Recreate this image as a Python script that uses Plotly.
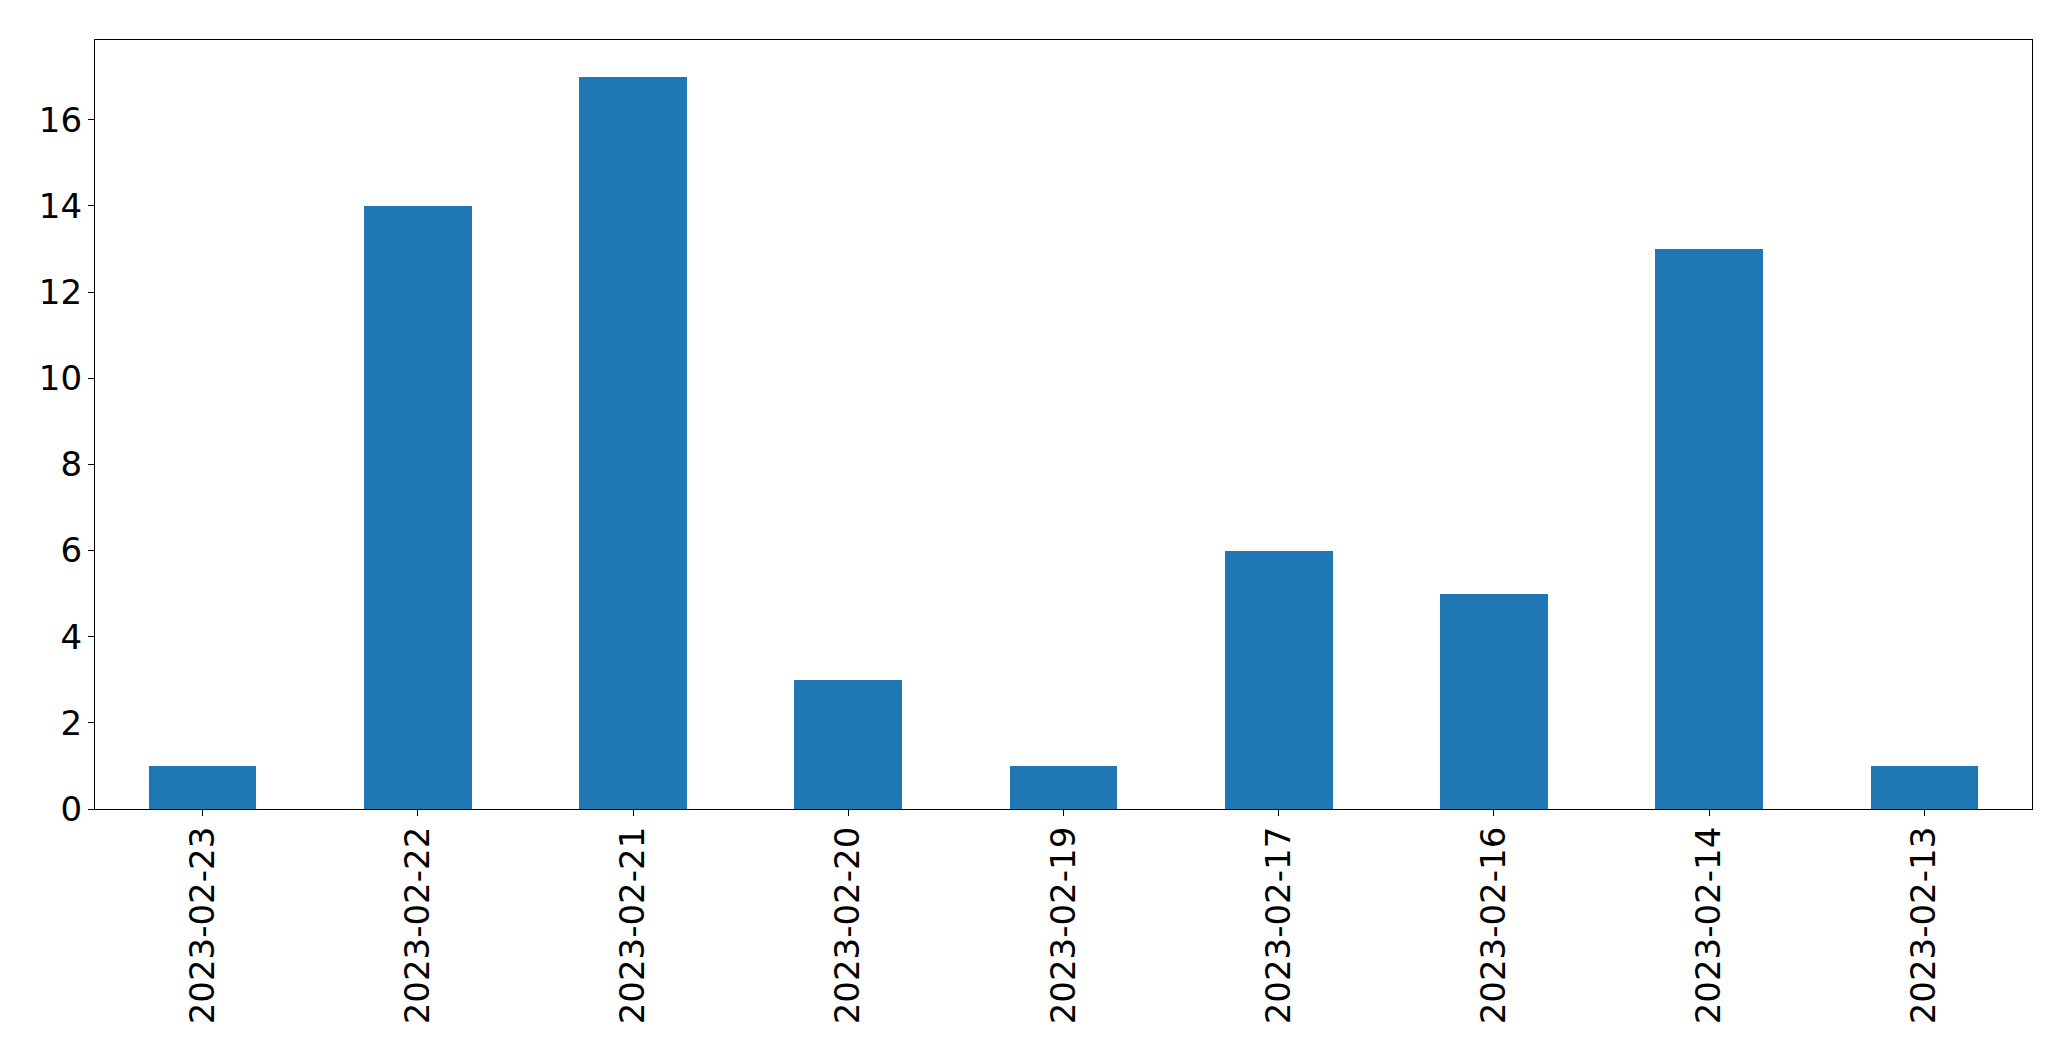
import plotly.graph_objects as go

dates = ["2023-02-23", "2023-02-22", "2023-02-21", "2023-02-20", "2023-02-19",
         "2023-02-17", "2023-02-16", "2023-02-14", "2023-02-13"]
counts = [1, 14, 17, 3, 1, 6, 5, 13, 1]
y_ticks = [0, 2, 4, 6, 8, 10, 12, 14, 16]

fig = go.Figure(go.Bar(x=dates, y=counts, marker_color="#1f77b4",
                       marker_line_width=0, width=0.5))

fig.update_layout(
    width=2071, height=1061,
    margin=dict(l=95, r=39, t=40, b=252),
    paper_bgcolor="white", plot_bgcolor="white",
    font=dict(family="DejaVu Sans", size=34, color="black"),
    showlegend=False,
    bargap=0,
)
fig.update_xaxes(type="category", range=[-0.5, 8.5], tickangle=-90,
                 showline=True, mirror=True, linecolor="black", linewidth=1.3,
                 ticks="outside", ticklen=6, tickcolor="black", tickwidth=1.3,
                 showgrid=False, zeroline=False, ticklabelstandoff=-3)
fig.update_yaxes(range=[0, 17.85], tickvals=y_ticks,
                 showline=True, mirror=True, linecolor="black", linewidth=1.3,
                 ticks="outside", ticklen=6, tickcolor="black", tickwidth=1.3,
                 showgrid=False, zeroline=False, ticklabelstandoff=-1)

fig.write_html("out.html", config={"displayModeBar": False},
               post_script="document.body.style.margin='0';document.body.style.overflow='hidden';")
